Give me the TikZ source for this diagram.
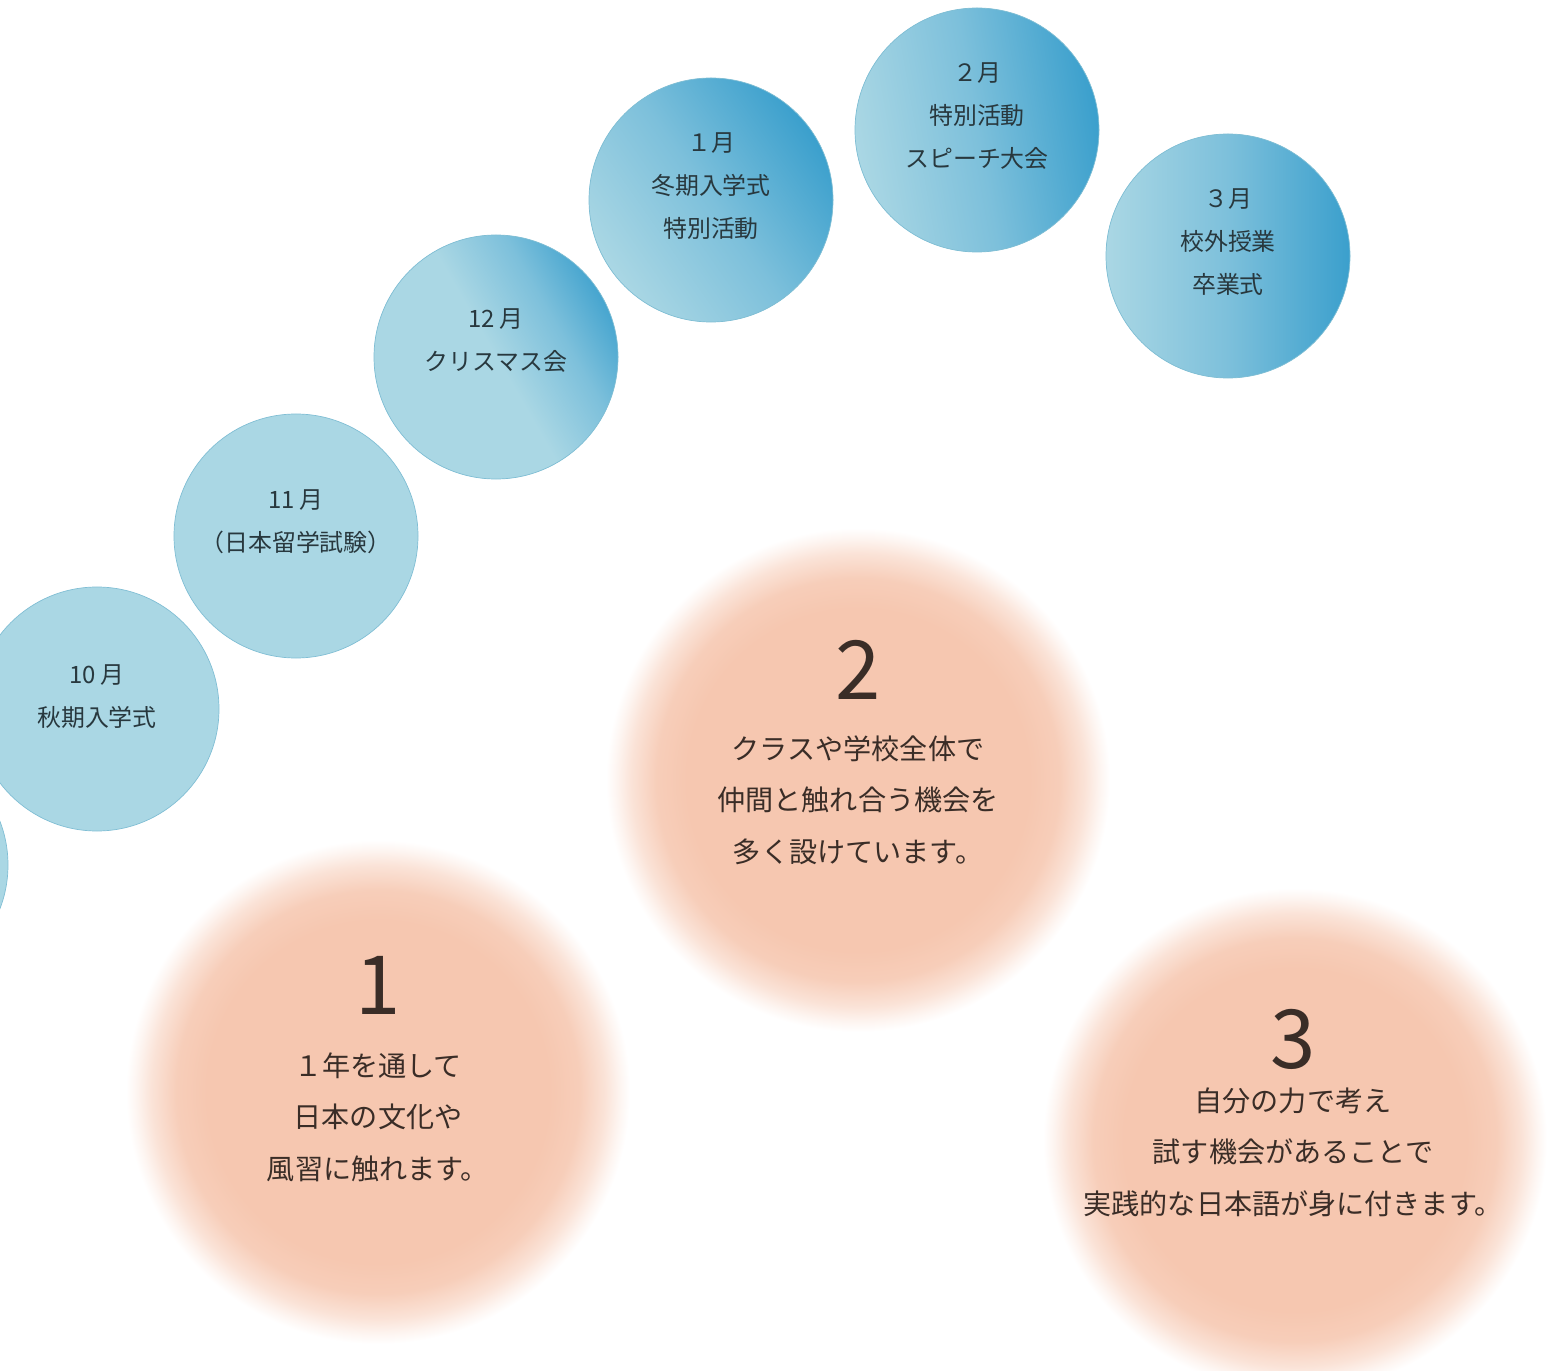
\documentclass[tikz,border=0pt]{standalone}
\usepackage{fontspec}
\setmainfont{Noto Sans CJK JP}
\definecolor{skylight}{RGB}{170,215,228}
\definecolor{skymid}{RGB}{125,192,219}
\definecolor{skydeep}{RGB}{56,158,204}
\definecolor{skyrim}{RGB}{128,190,212}
\definecolor{peach}{RGB}{246,199,176}
\definecolor{inkblue}{RGB}{40,56,62}
\definecolor{inkbrown}{RGB}{58,45,39}
\pgfdeclarehorizontalshading{skyfade}{100bp}{color(0bp)=(skylight); color(25bp)=(skylight); color(50bp)=(skymid); color(76bp)=(skydeep); color(100bp)=(skydeep)}
\pgfdeclarehorizontalshading{skyedge}{100bp}{color(0bp)=(skylight); color(50bp)=(skylight); color(64bp)=(skymid); color(78bp)=(skydeep); color(100bp)=(skydeep)}
\pgfdeclareradialshading{peachblur}{\pgfpoint{0bp}{0bp}}{color(0bp)=(peach); color(17bp)=(peach); color(20bp)=(peach!88!white); color(22.5bp)=(peach!50!white); color(24bp)=(peach!18!white); color(25bp)=(white); color(50bp)=(white)}
\begin{document}
\begin{tikzpicture}[x=0.25mm,y=-0.25mm]
\tikzset{monthdot/.style={circle,inner sep=0pt,minimum size=61mm,draw=skyrim,line width=0.5pt,fill=skylight},
monthtext/.style={align=center,text=inkblue,font=\fontsize{17}{30.6}\selectfont},
pointdot/.style={circle,inner sep=0pt,minimum size=126mm,shading=peachblur},
pointnum/.style={text=inkbrown,font=\fontsize{58}{60}\selectfont},
pointtext/.style={align=center,text=inkbrown,font=\fontsize{20}{36.6}\selectfont}
}
\useasboundingbox (0,0) rectangle (1560,1371);
\clip (0,0) rectangle (1560,1371);
\node[monthdot] (sep) at (-114,865) {};
\node[monthdot] (oct) at (97,709) {};
\node[monthdot] (nov) at (296,536) {};
\node[monthdot,shading=skyedge,shading angle=30] (dec) at (496,357) {};
\node[monthdot,shading=skyfade,shading angle=35] (jan) at (711,200) {};
\node[monthdot,shading=skyfade,shading angle=10] (feb) at (977,130) {};
\node[monthdot,shading=skyfade,shading angle=0] (mar) at (1228,256) {};
\node[monthtext] (octtext) at (97,697) {10\hspace{0.2em}月\\秋期入学式};
\node[monthtext] (novtext) at (296,522) {11\hspace{0.2em}月\\（日本留学試験）};
\node[monthtext] (dectext) at (496,341) {12\hspace{0.2em}月\\クリスマス会};
\node[monthtext] (jantext) at (711,186) {１月\\冬期入学式\\特別活動};
\node[monthtext] (febtext) at (977,116) {２月\\特別活動\\スピーチ大会};
\node[monthtext] (martext) at (1228,242) {３月\\校外授業\\卒業式};
\node[pointdot] (one) at (378,1092) {};
\node[pointdot] (two) at (858,780) {};
\node[pointdot] (three) at (1295,1140) {};
\node[pointnum] (onenum) at (378,985) {1};
\node[pointnum] (twonum) at (858,670) {2};
\node[pointnum] (threenum) at (1293,1039) {3};
\node[pointtext] (onetext) at (378,1117) {１年を通して\\日本の文化や\\風習に触れます。};
\node[pointtext] (twotext) at (858,800) {クラスや学校全体で\\仲間と触れ合う機会を\\多く設けています。};
\node[pointtext] (threetext) at (1293,1152) {自分の力で考え\\試す機会があることで\\実践的な日本語が身に付きます。};
\end{tikzpicture}
\end{document}
